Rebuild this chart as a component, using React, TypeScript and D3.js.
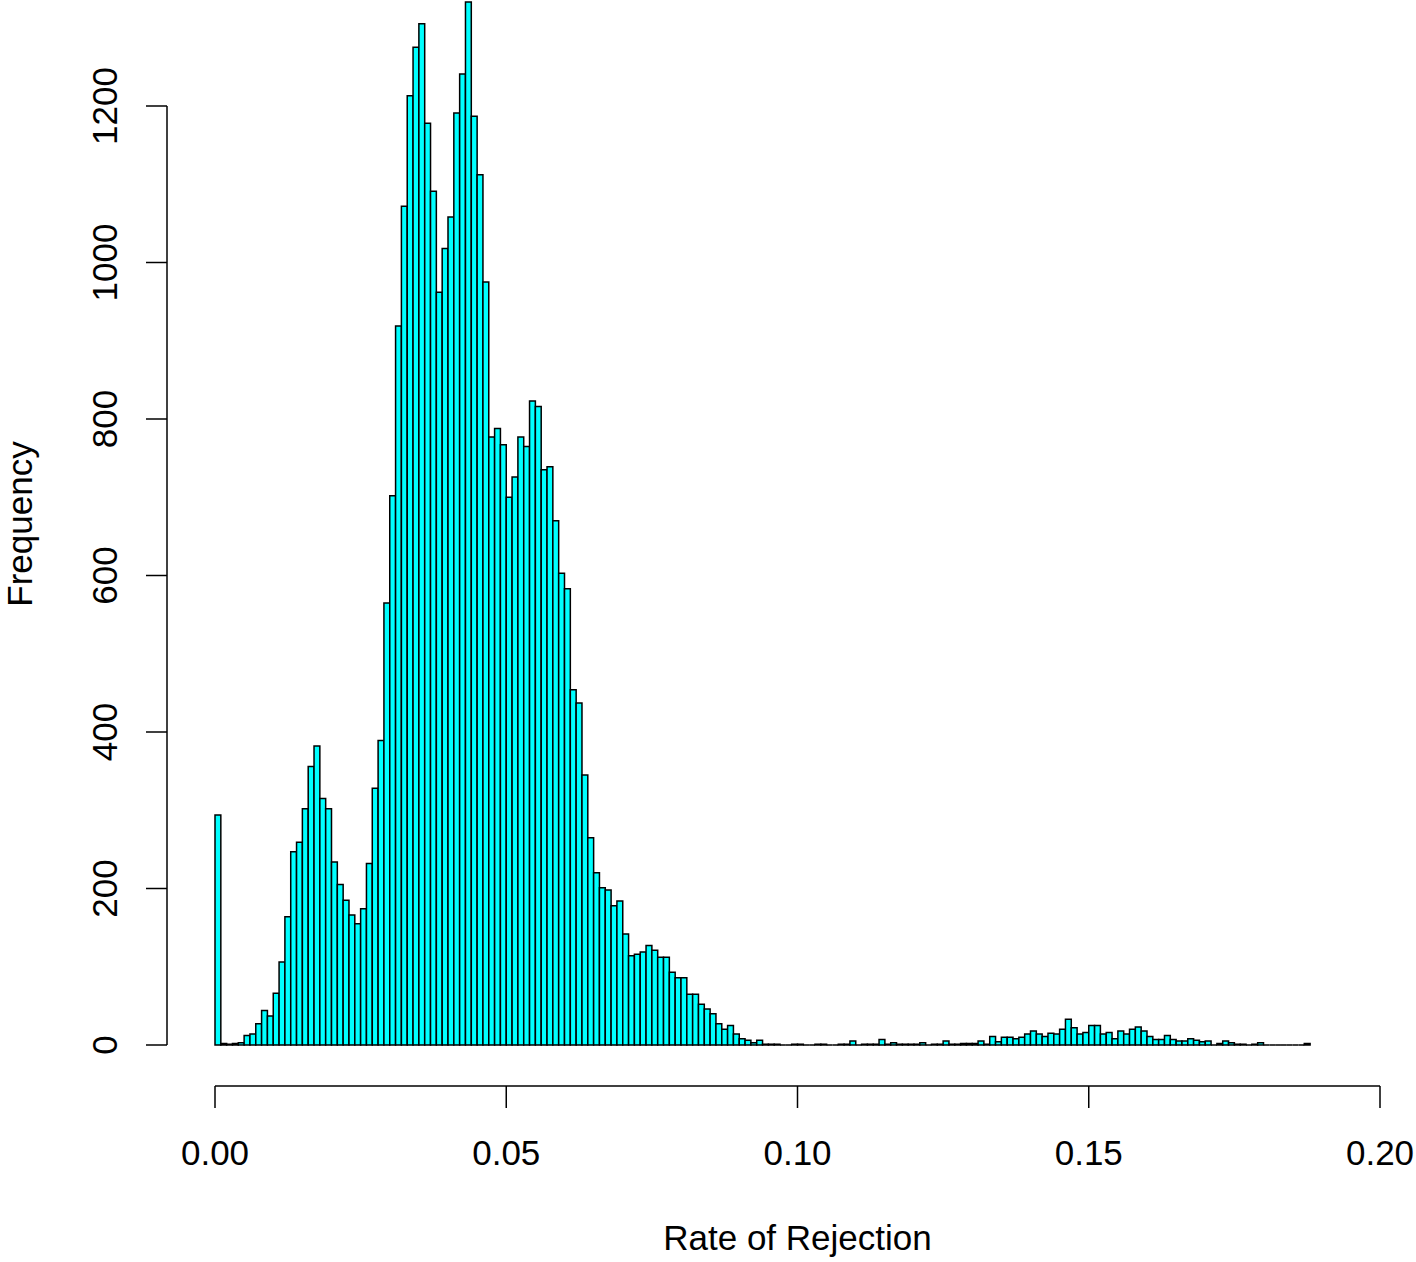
import React, { useEffect, useRef } from 'react';
import * as d3 from 'd3';

// histogram counts, one per 0.001 wide bin starting at 0
const counts: number[] = [
  294, 2, 1, 2, 3, 12, 14, 27, 44, 37,
  66, 106, 164, 247, 259, 302, 356, 382, 315, 302,
  234, 205, 185, 166, 155, 174, 232, 328, 389, 565,
  702, 919, 1072, 1213, 1275, 1305, 1178, 1091, 962, 1018,
  1058, 1191, 1241, 1333, 1187, 1112, 975, 777, 788, 767,
  700, 726, 777, 765, 823, 816, 735, 739, 670, 603,
  583, 454, 437, 345, 265, 220, 201, 198, 178, 184,
  142, 114, 116, 119, 127, 121, 112, 112, 93, 86,
  86, 65, 65, 52, 46, 40, 27, 20, 25, 14,
  8, 6, 3, 6, 1, 1, 1, 0, 0, 1,
  1, 0, 0, 1, 1, 0, 0, 1, 1, 5,
  0, 1, 1, 1, 7, 1, 3, 1, 1, 1,
  1, 3, 0, 1, 1, 5, 1, 1, 2, 2,
  2, 5, 1, 11, 4, 10, 10, 8, 10, 14,
  18, 14, 11, 15, 14, 20, 33, 22, 14, 16,
  25, 25, 14, 16, 8, 18, 14, 20, 23, 18,
  11, 7, 7, 12, 7, 5, 5, 8, 6, 4,
  5, 0, 2, 5, 3, 1, 1, 0, 1, 3,
  0, 0, 0, 0, 0, 0, 0, 2,
];
const binWidth = 0.001;

const xTicks = [0, 0.05, 0.1, 0.15, 0.2];
const xTickLabels = ['0.00', '0.05', '0.10', '0.15', '0.20'];
const yTicks = [0, 200, 400, 600, 800, 1000, 1200];

const xTitle = 'Rate of Rejection';
const yTitle = 'Frequency';

const App = () => {
  const [width, height] = [1416, 1262];
  const ref = useRef<SVGSVGElement>(null);

  useEffect(() => {
    const svg = d3.select(ref.current);
    svg.selectAll('*').remove();

    const font = '"Liberation Sans", Arial, sans-serif';

    const xScale = d3.scaleLinear().domain([0, 0.2]).range([215, 1380]);
    const yScale = d3.scaleLinear().domain([0, 1200]).range([1045, 106]);

    // bars as closed paths so that empty bins still show as a flat line
    svg.append('g')
      .selectAll('path')
      .data(counts)
      .join('path')
      .attr('d', (d, i) => {
        const x0 = xScale(i * binWidth);
        const x1 = xScale((i + 1) * binWidth);
        const y0 = yScale(0);
        const y1 = yScale(d);
        return `M${x0},${y0}V${y1}H${x1}V${y0}Z`;
      })
      .attr('fill', '#00ffff')
      .attr('stroke', '#000')
      .attr('stroke-width', 1.5);

    // x axis (R style, detached below the plot)
    const xAxisY = 1086;
    const gx = svg.append('g');
    gx.append('line')
      .attr('x1', xScale(xTicks[0])).attr('x2', xScale(xTicks[xTicks.length - 1]))
      .attr('y1', xAxisY).attr('y2', xAxisY)
      .attr('stroke', '#000').attr('stroke-width', 1.5);
    xTicks.forEach((t, i) => {
      gx.append('line')
        .attr('x1', xScale(t)).attr('x2', xScale(t))
        .attr('y1', xAxisY).attr('y2', 1108)
        .attr('stroke', '#000').attr('stroke-width', 1.5);
      gx.append('text')
        .attr('x', xScale(t)).attr('y', 1165)
        .attr('text-anchor', 'middle')
        .style('font-family', font).style('font-size', '35px')
        .attr('fill', '#000')
        .text(xTickLabels[i]);
    });

    // y axis
    const yAxisX = 167;
    const gy = svg.append('g');
    gy.append('line')
      .attr('x1', yAxisX).attr('x2', yAxisX)
      .attr('y1', yScale(yTicks[0])).attr('y2', yScale(yTicks[yTicks.length - 1]))
      .attr('stroke', '#000').attr('stroke-width', 1.5);
    yTicks.forEach((t) => {
      gy.append('line')
        .attr('x1', 146).attr('x2', yAxisX)
        .attr('y1', yScale(t)).attr('y2', yScale(t))
        .attr('stroke', '#000').attr('stroke-width', 1.5);
      gy.append('text')
        .attr('transform', `translate(117, ${yScale(t)}) rotate(-90)`)
        .attr('text-anchor', 'middle')
        .style('font-family', font).style('font-size', '35px')
        .attr('fill', '#000')
        .text(t);
    });

    // titles
    svg.append('text')
      .attr('x', (215 + 1380) / 2).attr('y', 1250)
      .attr('text-anchor', 'middle')
      .style('font-family', font).style('font-size', '35px')
      .text(xTitle);

    svg.append('text')
      .attr('transform', `translate(32, 524) rotate(-90)`)
      .attr('text-anchor', 'middle')
      .style('font-family', font).style('font-size', '35px')
      .text(yTitle);
  }, []);

  return (
    <svg
      ref={ref}
      width={width}
      height={height}
      style={{ position: 'absolute', left: 0, top: 0, background: '#fff' }}
    />
  );
};

export default App;
